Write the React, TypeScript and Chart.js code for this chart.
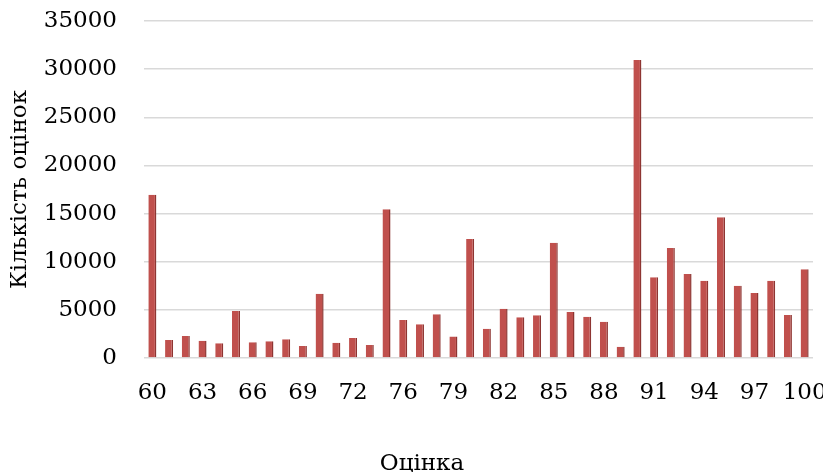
import React, { useEffect, useRef } from "react";
import { Chart, registerables } from "chart.js";

Chart.register(...registerables);

const grades: string[] = [
  "60", "61", "62", "63", "64", "65", "66", "67", "68", "69",
  "70", "71", "72", "73", "75", "76", "77", "78", "79", "80",
  "81", "82", "83", "84", "85", "86", "87", "88", "89", "90",
  "91", "92", "93", "94", "95", "96", "97", "98", "99", "100",
];

const counts: number[] = [
  16950, 1870, 2290, 1800, 1530, 4880, 1630, 1740, 1940, 1250,
  6680, 1590, 2080, 1350, 15440, 3950, 3500, 4540, 2220, 12360,
  3050, 5120, 4230, 4440, 11980, 4780, 4290, 3770, 1180, 30950,
  8380, 11420, 8720, 8030, 14610, 7510, 6750, 8030, 4470, 9210,
];

const yTitle = "Кількість оцінок";
const xTitle = "Оцінка";

const FONT = "'DejaVu Serif', serif";
const SIZE = 23;

export default function App() {
  const ref = useRef<HTMLCanvasElement | null>(null);

  useEffect(() => {
    if (!ref.current) return;
    const chart = new Chart(ref.current, {
      type: "bar",
      data: {
        labels: grades,
        datasets: [
          {
            data: counts,
            backgroundColor: "#c0504d",
            borderColor: "#8e3532",
            borderWidth: { right: 1.5, top: 0, left: 0, bottom: 0 },
            borderSkipped: false,
            categoryPercentage: 1,
            barPercentage: 0.48,
          },
        ],
      },
      options: {
        animation: false,
        responsive: true,
        maintainAspectRatio: false,
        layout: { padding: { top: 21, right: 10, left: 31, bottom: 0 } },
        plugins: {
          legend: { display: false },
          tooltip: { enabled: false },
          title: {
            display: true,
            position: "bottom",
            text: xTitle,
            color: "#000",
            font: { family: FONT, size: SIZE, weight: "normal" },
            padding: { top: 22.6, bottom: -5.8 },
          },
        },
        scales: {
          x: {
            offset: true,
            grid: { display: false, drawTicks: false },
            border: { display: false },
            ticks: {
              autoSkip: false,
              maxRotation: 0,
              minRotation: 0,
              padding: 21,
              color: "#000",
              font: { family: FONT, size: SIZE },
              callback: (_v: any, i: number) => (i % 3 === 0 ? grades[i] : ""),
            },
            afterFit: (scale: any) => {
              scale.paddingLeft = 0;
              scale.paddingRight = 0;
            },
          },
          y: {
            min: 0,
            max: 35000,
            grid: { color: "#d9d9d9", lineWidth: 1.5, drawTicks: false },
            border: { display: false },
            ticks: {
              stepSize: 5000,
              padding: 27,
              color: "#000",
              font: { family: FONT, size: SIZE },
              callback: (v: any) => String(v),
            },
            title: {
              display: true,
              text: yTitle,
              color: "#000",
              font: { family: FONT, size: SIZE, weight: "normal" },
              padding: { top: -25, bottom: 0 },
            },
            afterFit: (scale: any) => {
              scale.paddingTop = 0;
              scale.paddingBottom = 0;
              scale.width = 113;
            },
          },
        },
      },
    });
    return () => chart.destroy();
  }, []);

  return (
    <div style={{ position: "fixed", left: 0, top: 0, width: 823, height: 472, background: "#fff" }}>
      <canvas ref={ref} />
    </div>
  );
}
